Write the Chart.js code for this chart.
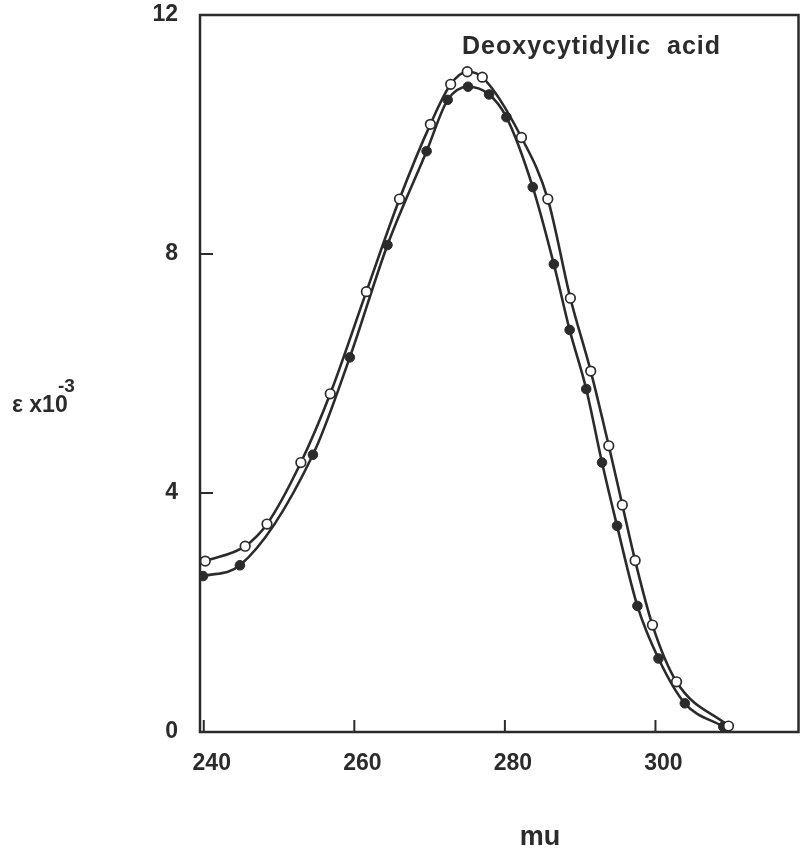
<!DOCTYPE html>
<html>
<head>
<meta charset="utf-8">
<script src="https://cdn.jsdelivr.net/npm/chart.js@4.4.1/dist/chart.umd.min.js"></script>
<style>
  html, body { margin: 0; padding: 0; background: #fff; }
  #wrap { width: 805px; height: 848px; position: relative; }
</style>
</head>
<body>
<div id="wrap"><canvas id="myChart" width="805" height="848"></canvas></div>
<script>
// open circles (upper curve on the left side)
const onda_abierto = [240.2, 245.5, 248.4, 252.9, 256.8, 261.6, 266.0, 270.1, 272.8, 275.0, 277.0, 282.2, 285.7, 288.7, 291.4, 293.8, 295.6, 297.3, 299.6, 302.8, 309.7];
const eps_abierto = [2.86, 3.11, 3.48, 4.51, 5.66, 7.37, 8.92, 10.17, 10.84, 11.05, 10.96, 9.95, 8.92, 7.26, 6.04, 4.79, 3.80, 2.87, 1.79, 0.84, 0.10];

// filled circles
const onda_lleno = [239.9, 244.8, 254.5, 259.4, 264.4, 269.6, 272.4, 275.1, 277.9, 280.2, 283.7, 286.5, 288.6, 290.8, 292.9, 294.9, 297.6, 300.4, 303.9, 309.0];
const eps_lleno = [2.61, 2.79, 4.64, 6.27, 8.15, 9.72, 10.58, 10.80, 10.67, 10.29, 9.12, 7.83, 6.73, 5.74, 4.51, 3.45, 2.11, 1.23, 0.48, 0.09];

const ticksX = [240, 260, 280, 300];
const ticksY = [0, 4, 8, 12];

const tinta = '#2b2b2b';
const fuente = '"Liberation Sans", Arial, sans-serif';

const puntos = (xs, ys) => xs.map((x, i) => ({ x: x, y: ys[i] }));

// frame, inward ticks and the free texts
const marco = {
    id: 'marco',
    afterDraw(chart) {
        const ctx = chart.ctx;
        const a = chart.chartArea;
        const sx = chart.scales.x;
        const sy = chart.scales.y;
        ctx.save();
        ctx.strokeStyle = tinta;
        ctx.lineWidth = 2.5;
        ctx.strokeRect(a.left, a.top, a.right - a.left, a.bottom - a.top);

        ctx.lineWidth = 2;
        ticksX.forEach(v => {
            let px = sx.getPixelForValue(v);
            ctx.beginPath();
            ctx.moveTo(px, a.bottom);
            ctx.lineTo(px, a.bottom - 12);
            ctx.stroke();
        });
        ticksY.forEach(v => {
            let py = sy.getPixelForValue(v);
            ctx.beginPath();
            ctx.moveTo(a.left, py);
            ctx.lineTo(a.left + 13, py);
            ctx.stroke();
        });

        ctx.fillStyle = tinta;
        ctx.textBaseline = 'alphabetic';
        ctx.textAlign = 'left';
        ctx.font = 'bold 25px ' + fuente;
        ctx.letterSpacing = '1px';
        ctx.fillText('Deoxycytidylic  acid', a.left + 262, a.top + 39);
        ctx.letterSpacing = '0px';

        ctx.font = 'bold 23px ' + fuente;
        ctx.fillText('\u03b5 x10', 12, 412);
        ctx.font = 'bold 19px ' + fuente;
        ctx.fillText('-3', 58, 392);

        ctx.textAlign = 'center';
        ctx.font = 'bold 27px ' + fuente;
        ctx.fillText('mu', 540, 845);
        ctx.restore();
    }
};

const ctx = document.getElementById('myChart').getContext('2d');
const myChart = new Chart(ctx, {
    type: 'scatter',
    data: {
        datasets: [
            {
                label: 'abierto',
                data: puntos(onda_abierto, eps_abierto),
                showLine: true,
                cubicInterpolationMode: 'monotone',
                borderColor: tinta,
                borderWidth: 2.6,
                pointRadius: 4.8,
                pointBorderWidth: 1.7,
                pointBackgroundColor: '#fff',
                pointBorderColor: tinta,
                order: 1
            },
            {
                label: 'lleno',
                data: puntos(onda_lleno, eps_lleno),
                showLine: true,
                cubicInterpolationMode: 'monotone',
                borderColor: tinta,
                borderWidth: 2.6,
                pointRadius: 4.8,
                pointBorderWidth: 1,
                pointBackgroundColor: tinta,
                pointBorderColor: tinta,
                order: 2
            }
        ]
    },
    options: {
        responsive: false,
        animation: false,
        events: [],
        layout: { padding: { top: 15, right: 3, left: 0, bottom: 0 } },
        plugins: {
            legend: { display: false },
            tooltip: { enabled: false },
            title: { display: false }
        },
        scales: {
            x: {
                type: 'linear',
                min: 239.5,
                max: 319,
                afterBuildTicks: scale => { scale.ticks = ticksX.map(v => ({ value: v })); },
                afterFit: scale => {
                    scale.height = 116;
                    scale.paddingLeft = 0;
                    scale.paddingRight = 0;
                },
                grid: { display: false },
                border: { display: false },
                ticks: {
                    color: tinta,
                    font: { family: fuente, size: 23, weight: 'bold' },
                    padding: 10,
                    labelOffset: 8,
                    maxRotation: 0
                }
            },
            y: {
                type: 'linear',
                min: 0,
                max: 12,
                afterBuildTicks: scale => { scale.ticks = ticksY.map(v => ({ value: v })); },
                afterFit: scale => {
                    scale.width = 200;
                    scale.paddingTop = 0;
                    scale.paddingBottom = 0;
                },
                grid: { display: false },
                border: { display: false },
                ticks: {
                    color: tinta,
                    font: { family: fuente, size: 23, weight: 'bold' },
                    padding: 14
                }
            }
        }
    },
    plugins: [marco]
});
</script>
</body>
</html>
